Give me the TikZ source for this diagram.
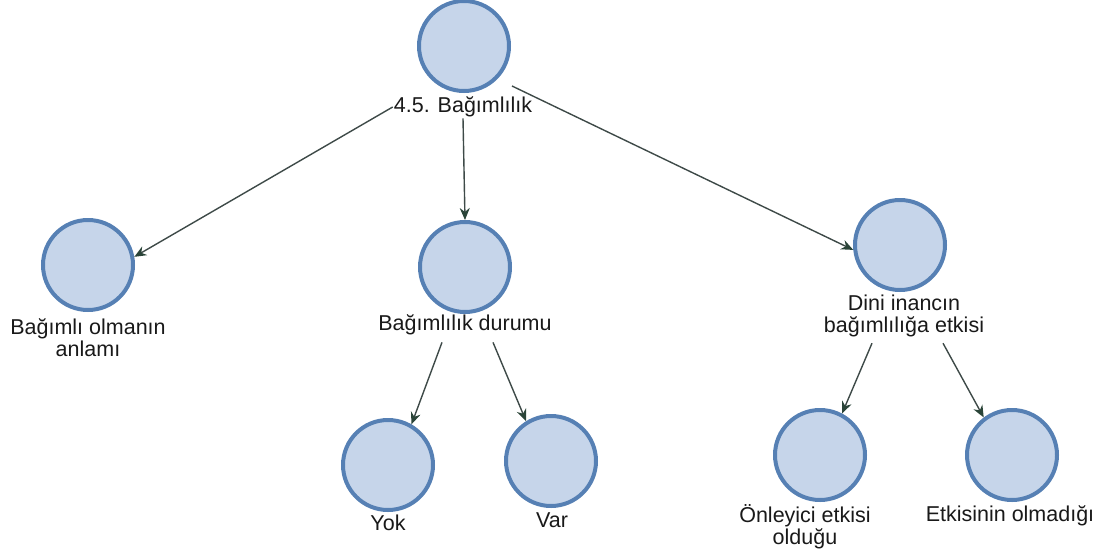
\documentclass[tikz,border=0pt]{standalone}
\usepackage{fontspec}
\setmainfont{Liberation Sans}
\usepackage{tikz}
\usetikzlibrary{arrows.meta}

\definecolor{bubblefill}{RGB}{198,213,234}
\definecolor{bubbleline}{RGB}{86,128,180}
\definecolor{linkgray}{RGB}{62,74,72}
\definecolor{tipgreen}{RGB}{42,68,56}

\begin{document}
\begin{tikzpicture}[x=1pt, y=-1pt, >={Stealth[length=12pt,width=10pt,color=tipgreen]},
    bubble/.style={circle, draw=bubbleline, fill=bubblefill, line width=4pt, minimum size=90pt, inner sep=0pt},
    caption/.style={align=center, inner sep=1pt, text=black!90, font=\fontsize{21.5}{22}\selectfont},
    link/.style={->, line width=1.4pt, linkgray}]
    \useasboundingbox (0,0) rectangle (1105,555);

    % root
    \node[bubble] (root) at (464,46) {};
    \node[caption] (lroot) at (463,107) {4.5. Bağımlılık};

    % level 1
    \node[bubble] (anlam) at (88,265) {};
    \node[caption] (lanlam) at (88,338) {Bağımlı olmanın\\anlamı};

    \node[bubble] (durum) at (465,267) {};
    \node[caption] (ldurum) at (465,325) {Bağımlılık durumu};

    \node[bubble] (dini) at (900,245) {};
    \node[caption] (ldini) at (904,316) {Dini inancın\\bağımlılığa etkisi};

    % level 2
    \node[bubble] (yok) at (388,465) {};
    \node[caption] (lyok) at (388,523) {Yok};

    \node[bubble] (var) at (551,461) {};
    \node[caption] (lvar) at (552,520) {Var};

    \node[bubble] (onleyici) at (820,455) {};
    \node[caption] (lonleyici) at (805,527) {Önleyici etkisi\\olduğu};

    \node[bubble] (etkisiz) at (1012,455) {};
    \node[caption] (letkisiz) at (1010,516) {Etkisinin olmadığı};

    % links
    \draw[link] (lroot.west) -- (anlam.10);
    \draw[link] (lroot.south) -- (durum.north);
    \draw[link] ([xshift=48pt,yshift=-40pt]root.center) -- (dini.186);

    \draw[link] ([xshift=-23pt,yshift=-6pt]ldurum.south) -- (yok.60);
    \draw[link] ([xshift=28pt,yshift=-6pt]ldurum.south) -- (var.122);

    \draw[link] ([xshift=-32pt,yshift=-5pt]ldini.south) -- (onleyici.62);
    \draw[link] ([xshift=39pt,yshift=-5pt]ldini.south) -- (etkisiz.127);
\end{tikzpicture}
\end{document}
